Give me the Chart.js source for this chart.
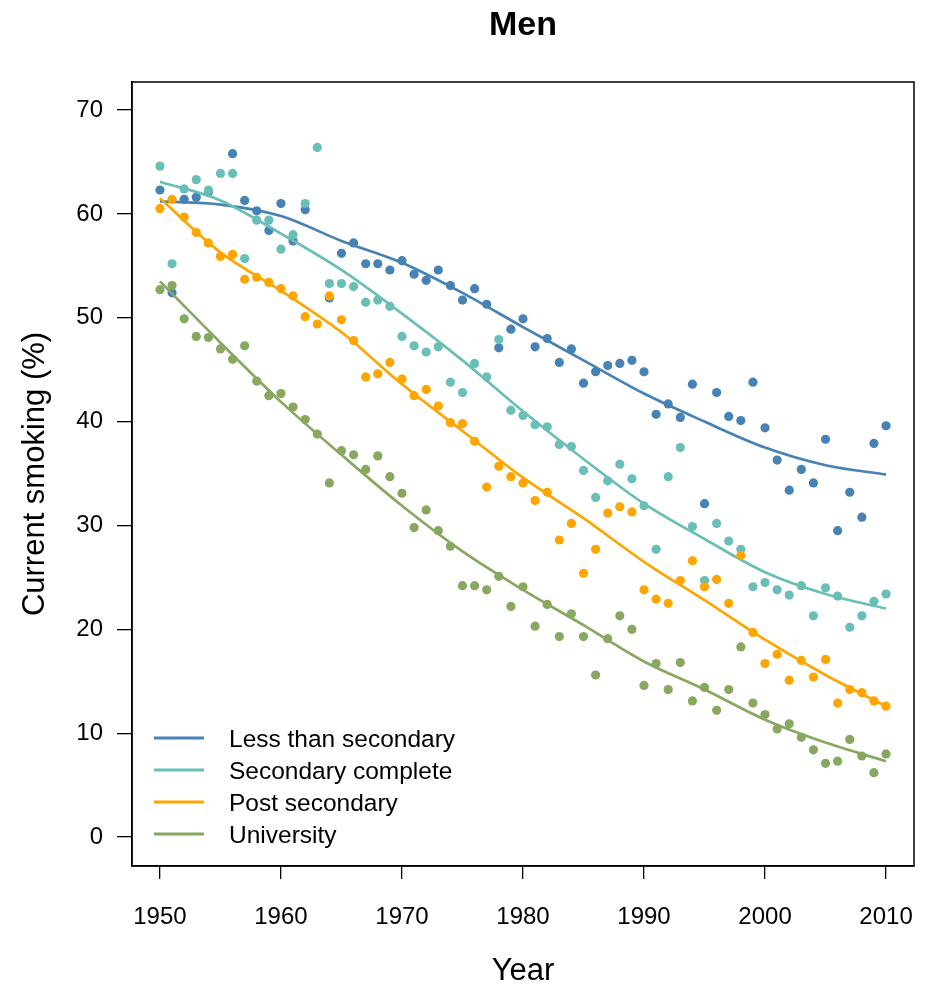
<!DOCTYPE html>
<html>
<head>
<meta charset="utf-8">
<title>Men</title>
<script src="https://cdn.jsdelivr.net/npm/chart.js@4.4.1/dist/chart.umd.min.js"></script>
<style>
  html, body { margin: 0; padding: 0; background: #fff; }
  canvas { display: block; }
</style>
</head>
<body>
<canvas id="chart" width="934" height="985"></canvas>
<script>
// Current smoking among men by education level. Dots are yearly estimates,
// lines the smoothed trend. Styled after the R base-graphics original.

const years = [
  1950, 1951, 1952, 1953, 1954, 1955, 1956, 1957, 1958, 1959,
  1960, 1961, 1962, 1963, 1964, 1965, 1966, 1967, 1968, 1969,
  1970, 1971, 1972, 1973, 1974, 1975, 1976, 1977, 1978, 1979,
  1980, 1981, 1982, 1983, 1984, 1985, 1986, 1987, 1988, 1989,
  1990, 1991, 1992, 1993, 1994, 1995, 1996, 1997, 1998, 1999,
  2000, 2001, 2002, 2003, 2004, 2005, 2006, 2007, 2008, 2009,
  2010,
];

const lessThanSecondary = [
  62.3, 52.4, 61.4, 61.6, 62.1, null, 65.8, 61.3, 60.3, 58.4,
  61.0, 57.4, 60.4, null, 51.9, 56.2, 57.2, 55.2, 55.2, 54.6,
  55.5, 54.2, 53.6, 54.6, 53.1, 51.7, 52.8, 51.3, 47.1, 48.9,
  49.9, 47.2, 48.0, 45.7, 47.0, 43.7, 44.8, 45.4, 45.6, 45.9,
  44.8, 40.7, 41.7, 40.4, 43.6, 32.1, 42.8, 40.5, 40.1, 43.8,
  39.4, 36.3, 33.4, 35.4, 34.1, 38.3, 29.5, 33.2, 30.8, 37.9,
  39.6,
];

const secondaryComplete = [
  64.6, 55.2, 62.4, 63.3, 62.3, 63.9, 63.9, 55.7, 59.4, 59.4,
  56.6, 58.0, 61.0, 66.4, 53.3, 53.3, 53.0, 51.5, 51.7, 51.1,
  48.2, 47.3, 46.7, 47.2, 43.8, 42.8, 45.6, 44.3, 47.9, 41.1,
  40.6, 39.7, 39.5, 37.8, 37.6, 35.3, 32.7, 34.3, 35.9, 34.5,
  31.9, 27.7, 34.7, 37.5, 29.9, 24.7, 30.2, 28.5, 27.7, 24.1,
  24.5, 23.8, 23.3, 24.2, 21.3, 24.0, 23.2, 20.2, 21.3, 22.7,
  23.4,
];

const postSecondary = [
  60.5, 61.4, 59.7, 58.2, 57.2, 55.9, 56.1, 53.7, 53.9, 53.4,
  52.8, 52.1, 50.1, 49.4, 52.1, 49.8, 47.8, 44.3, 44.6, 45.7,
  44.1, 42.5, 43.1, 41.5, 39.9, 39.8, 38.1, 33.7, 35.7, 34.7,
  34.1, 32.4, 33.2, 28.6, 30.2, 25.4, 27.7, 31.2, 31.8, 31.3,
  23.8, 22.9, 22.5, 24.7, 26.6, 24.1, 24.8, 22.5, 27.1, 19.7,
  16.7, 17.6, 15.1, 17.0, 15.4, 17.1, 12.9, 14.2, 13.9, 13.1,
  12.6,
];

const university = [
  52.7, 53.1, 49.9, 48.2, 48.1, 47.0, 46.0, 47.3, 43.9, 42.5,
  42.7, 41.4, 40.2, 38.8, 34.1, 37.2, 36.8, 35.4, 36.7, 34.7,
  33.1, 29.8, 31.5, 29.5, 28.0, 24.2, 24.2, 23.8, 25.1, 22.2,
  24.1, 20.3, 22.4, 19.3, 21.5, 19.3, 15.6, 19.1, 21.3, 20.0,
  14.6, 16.7, 14.2, 16.8, 13.1, 14.4, 12.2, 14.2, 18.3, 12.9,
  11.8, 10.4, 10.9, 9.6, 8.4, 7.1, 7.3, 9.4, 7.8, 6.2,
  8.0,
];

// smoothed trend, read every five years
const trendYears = [1950, 1955, 1960, 1965, 1970, 1975, 1980, 1985, 1990, 1995, 2000, 2005, 2010];
const lessTrend = [61.2, 60.9, 59.8, 57.4, 55.3, 52.4, 49.1, 45.9, 42.7, 40.0, 37.5, 35.8, 34.9];
const secondaryTrend = [63.1, 61.3, 58.1, 54.6, 50.4, 45.9, 41.0, 36.4, 32.1, 28.7, 25.5, 23.4, 22.0];
const postTrend = [61.5, 56.3, 52.6, 48.6, 43.6, 39.1, 34.6, 30.7, 26.5, 22.8, 19.0, 15.6, 12.6];
const universityTrend = [53.5, 47.6, 41.9, 36.8, 31.9, 27.5, 23.8, 20.4, 16.9, 14.2, 11.3, 9.1, 7.3];

const xTicks = [1950, 1960, 1970, 1980, 1990, 2000, 2010];
const yTicks = [0, 10, 20, 30, 40, 50, 60, 70];

const SERIES = [
  { label: "Less than secondary", color: "#4682b4", points: lessThanSecondary, trend: lessTrend },
  { label: "Secondary complete", color: "#69bfb6", points: secondaryComplete, trend: secondaryTrend },
  { label: "Post secondary", color: "#ffa500", points: postSecondary, trend: postTrend },
  { label: "University", color: "#88a860", points: university, trend: universityTrend },
];

const FONT = "'Liberation Sans', Arial, Helvetica, sans-serif";
Chart.defaults.font.family = FONT;
Chart.defaults.color = "#000";

const datasets = [];
SERIES.forEach((s, i) => {
  const base = (SERIES.length - i) * 2; // later series sit on top
  datasets.push({
    label: s.label,
    data: years.map((y, k) => ({ x: y, y: s.points[k] })),
    showLine: false,
    pointRadius: 4.6,
    pointHoverRadius: 4.6,
    pointBorderWidth: 0,
    pointBackgroundColor: s.color,
    borderColor: s.color,
    order: base,
  });
  datasets.push({
    label: s.label + " trend",
    data: trendYears.map((y, k) => ({ x: y, y: s.trend[k] })),
    borderColor: s.color,
    borderWidth: 2.7,
    pointRadius: 0,
    fill: false,
    cubicInterpolationMode: "monotone",
    order: base - 1,
  });
});

// box round the plot, centred title and the in-plot legend
const framePlugin = {
  id: "frame",
  afterDraw(chart) {
    const { ctx, chartArea: a } = chart;
    ctx.save();
    ctx.strokeStyle = "#000";
    ctx.lineWidth = 1.5;
    ctx.strokeRect(a.left, a.top, a.right - a.left, a.bottom - a.top);

    ctx.fillStyle = "#000";
    ctx.font = "bold 34px " + FONT;
    ctx.textAlign = "center";
    ctx.textBaseline = "middle";
    ctx.fillText("Men", (a.left + a.right) / 2, 26);

    ctx.font = "24.5px " + FONT;
    ctx.textAlign = "left";
    SERIES.forEach((s, i) => {
      const y = a.bottom - 128 + i * 32;
      ctx.strokeStyle = s.color;
      ctx.lineWidth = 3;
      ctx.beginPath();
      ctx.moveTo(a.left + 22, y);
      ctx.lineTo(a.left + 72, y);
      ctx.stroke();
      ctx.fillText(s.label, a.left + 97, y + 2);
    });
    ctx.restore();
  },
};

new Chart(document.getElementById("chart"), {
  type: "line",
  data: { datasets },
  plugins: [framePlugin],
  options: {
    responsive: false,
    animation: false,
    layout: { autoPadding: false, padding: { top: 82, right: 20, left: 0, bottom: 0 } },
    plugins: { legend: { display: false }, tooltip: { enabled: false }, title: { display: false } },
    scales: {
      x: {
        type: "linear",
        min: 1947.69,
        max: 2012.31,
        afterBuildTicks: (s) => { s.ticks = xTicks.map((v) => ({ value: v })); },
        afterFit: (s) => { s.height = 119; s.paddingLeft = 0; s.paddingRight = 0; },
        ticks: {
          autoSkip: false, maxRotation: 0, padding: 24,
          font: { size: 24 }, color: "#000",
          callback: (v) => String(v),
        },
        grid: { drawOnChartArea: false, drawTicks: true, tickLength: 13, color: "#000", lineWidth: 1.3 },
        border: { display: true, color: "#000", width: 1.5 },
        title: { display: true, text: "Year", font: { size: 31, lineHeight: 0.9 }, color: "#000", padding: { top: 0, bottom: 0 } },
      },
      y: {
        type: "linear",
        min: -2.79,
        max: 72.7,
        afterBuildTicks: (s) => { s.ticks = yTicks.map((v) => ({ value: v })); },
        afterFit: (s) => { s.width = 132; },
        ticks: { padding: 14, font: { size: 24 }, color: "#000", callback: (v) => String(v) },
        grid: { drawOnChartArea: false, drawTicks: true, tickLength: 15, color: "#000", lineWidth: 1.3 },
        border: { display: true, color: "#000", width: 1.5 },
        title: { display: true, text: "Current smoking (%)", font: { size: 31, lineHeight: 1.1 }, color: "#000", padding: { top: 18, bottom: 0 } },
      },
    },
  },
});
</script>
</body>
</html>
